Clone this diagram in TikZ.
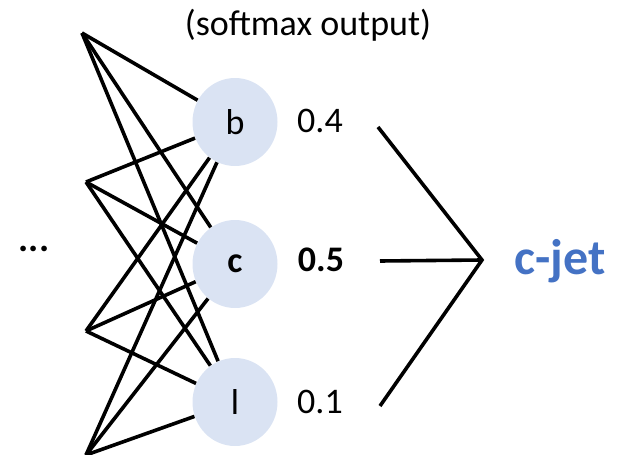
\documentclass[tikz,border=0pt]{standalone}
\usepackage{fontspec}
\setmainfont{Carlito}
\usetikzlibrary{shapes.geometric}
\definecolor{neuronfill}{HTML}{DAE3F3}
\definecolor{jetblue}{HTML}{4472C4}
\begin{document}
\begin{tikzpicture}[x=0.5pt, y=-0.5pt,
    neuron/.style={ellipse, fill=neuronfill, minimum width=42.5pt,
        minimum height=44pt, inner sep=0pt},
    prob/.style={anchor=base, inner sep=0pt},
    wire/.style={line width=1.8pt}]
    \useasboundingbox (0,0) rectangle (617,455);
    \fontsize{18}{21}\selectfont
    % last hidden layer
    \coordinate (h1) at (82,33);
    \coordinate (h2) at (86,182);
    \coordinate (h3) at (86,331);
    \coordinate (h4) at (86,455);
    \node (dots) at (34,249) {\fontsize{19}{21}\selectfont\textbf{...}};
    % output layer
    \node[neuron] (b) at (235,122) {b};
    \node[neuron] (c) at (235,264) {\textbf{c}};
    \node[neuron] (l) at (235,402) {l};
    \node[prob] (title) at (308,35) {(softmax output)};
    \begin{scope}[wire]
    \foreach \h in {h1,h2,h3,h4}
        \foreach \o in {b,c,l}
            \draw (\h) -- (\o);
    \end{scope}
    % probabilities and the decision
    \node[prob] (pb) at (320,133) {0.4};
    \node[prob] (pc) at (321,271) {\textbf{0.5}};
    \node[prob] (pl) at (320,413) {0.1};
    \coordinate (ob) at (378,127);
    \coordinate (oc) at (380,261);
    \coordinate (ol) at (380,406);
    \coordinate (join) at (482,260);
    \node[anchor=base, inner sep=0pt, text=jetblue,
        font=\fontsize{25}{28}\selectfont\bfseries] (jet) at (560,274) {c-jet};
    \draw[wire]
        (ob)--(join)--(ol)
        (oc)--(join);
\end{tikzpicture}
\end{document}
